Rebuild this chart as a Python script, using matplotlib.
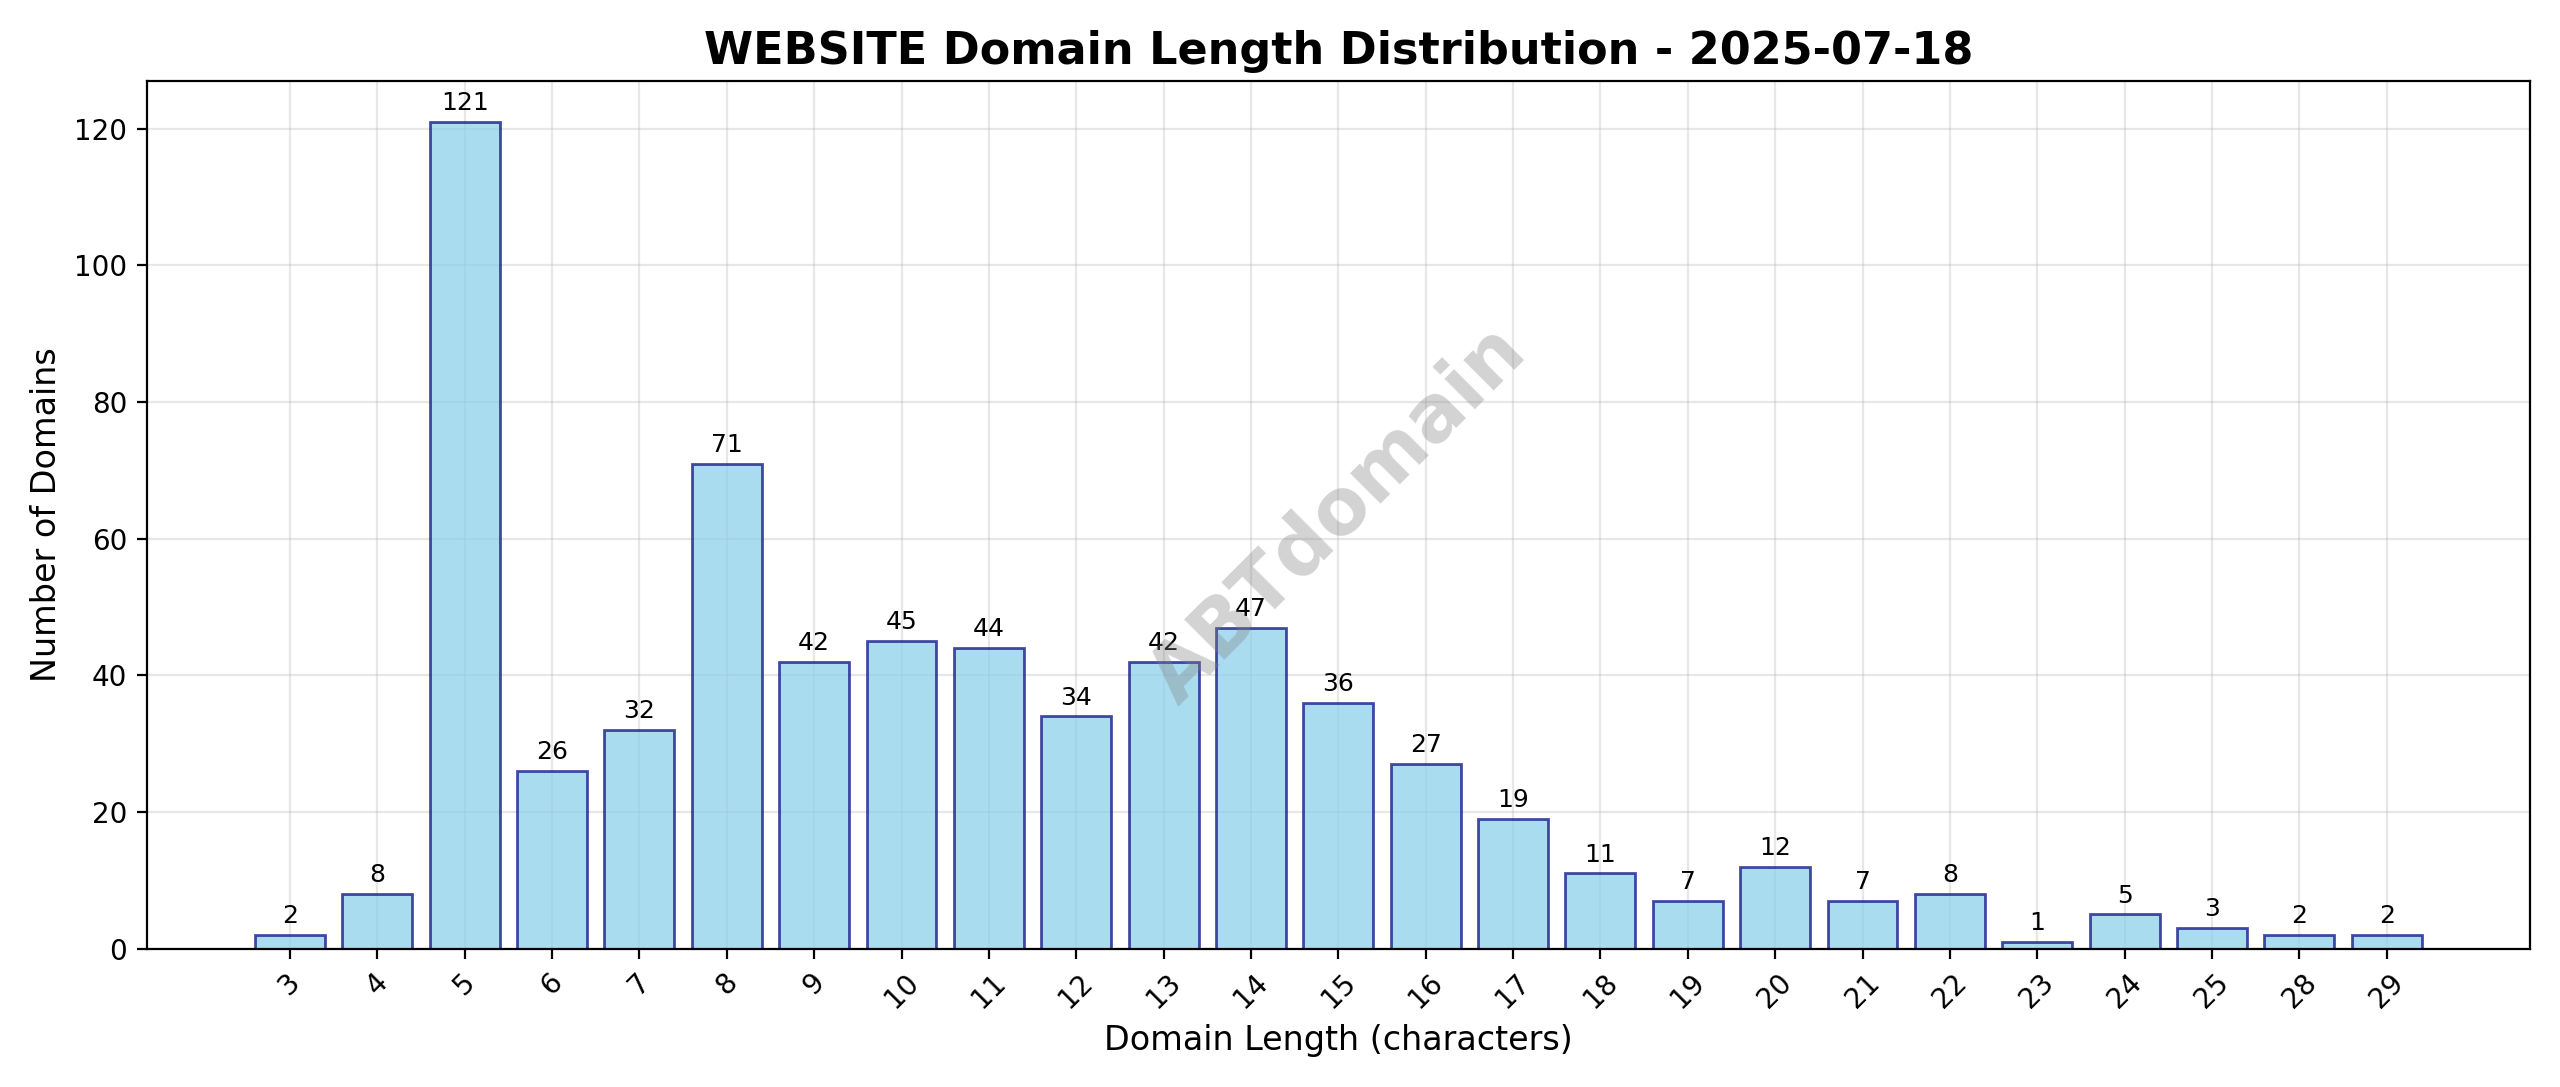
import matplotlib
matplotlib.use("Agg")
import matplotlib.pyplot as plt

lengths = ["3","4","5","6","7","8","9","10","11","12","13","14","15","16","17","18","19","20","21","22","23","24","25","28","29"]
counts = [2,8,121,26,32,71,42,45,44,34,42,47,36,27,19,11,7,12,7,8,1,5,3,2,2]

fig, ax = plt.subplots(figsize=(12.8, 5.435), dpi=200)
x = range(len(lengths))
bars = ax.bar(x, counts, color="skyblue", alpha=0.7, edgecolor="navy", linewidth=1)
for b, c in zip(bars, counts):
    ax.text(b.get_x() + b.get_width()/2, b.get_height() + 1, str(c), ha="center", va="bottom", fontsize=9)
ax.set_xticks(list(x))
ax.set_xticklabels(lengths, rotation=45)
ax.set_xlabel("Domain Length (characters)", fontsize=12)
ax.set_ylabel("Number of Domains", fontsize=12)
ax.set_title("WEBSITE Domain Length Distribution - 2025-07-18", fontsize=16, fontweight="bold")
ax.grid(True, alpha=0.3)
ax.set_axisbelow(True)
ax.text(0.5, 0.5, "ABTdomain", transform=ax.transAxes, fontsize=28, color="gray", alpha=0.35,
        fontweight="bold", rotation=45, ha="center", va="center")
fig.tight_layout()
fig.savefig("out.png", dpi=200)
